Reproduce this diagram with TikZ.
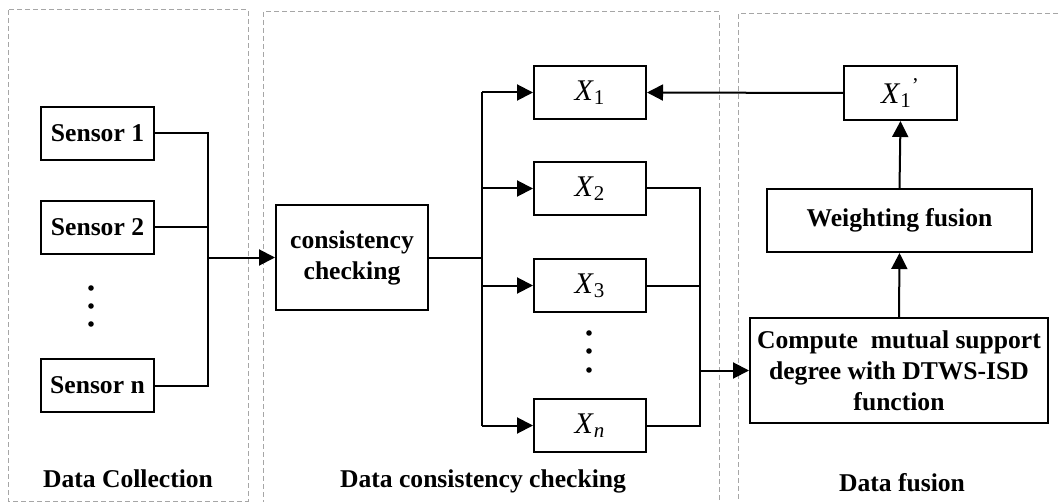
\documentclass[tikz,border=0pt]{standalone}
\usepackage{fontspec}
\setmainfont{Liberation Serif}
\usetikzlibrary{arrows.meta, calc}

\newcommand{\Xs}[1]{\textit{X}\textsubscript{#1}}

\begin{document}
\begin{tikzpicture}[x=0.5pt, y=-0.5pt, font=\fontsize{12.8}{15.5}\selectfont\bfseries,
	line width=1pt,
	box/.style={draw, rectangle, inner sep=0pt, align=center},
	xbox/.style={box, minimum width=56pt, minimum height=26.5pt, font=\fontsize{15}{17}\selectfont},
	sbox/.style={box, minimum width=56.5pt, minimum height=26.5pt},
	panel/.style={draw=gray!70, line width=0.5pt, dash pattern=on 2.5pt off 1.5pt},
	arr/.style={-{Triangle[length=8pt, width=8pt]}},
	dot/.style={fill, circle, inner sep=0pt, minimum size=2.8pt}]
	\def\busA{208}
	\def\busB{482}
	\def\busC{700}

	\useasboundingbox (0,0) rectangle (1059,502);
	\begin{scope}
		\clip (0,0) rectangle (1059,502);
		\draw[panel] (8,10) rectangle (248,501);
		\draw[panel] (263,12) rectangle (719,520);
		\draw[panel] (738,14) rectangle (1080,520);
	\end{scope}

	\node[sbox] (s1) at (97.5,133.5) {Sensor 1};
	\node[sbox] (s2) at (97.5,227.5) {Sensor 2};
	\node[sbox] (sn) at (97.5,385.5) {Sensor n};
	\foreach \y in {288,306,324}
		\node[dot] at (91,\y) {};

	\node[box, minimum width=76pt, minimum height=52.5pt] (chk) at (352,257.5) {consistency\\checking};

	\node[xbox] (x1) at (590,92.5) {\Xs{1}};
	\node[xbox] (x2) at (590,188.5) {\Xs{2}};
	\node[xbox] (x3) at (590,285.5) {\Xs{3}};
	\node[xbox] (xn) at (590,425.5) {\Xs{\textit{n}}};
	\foreach \y in {333,351,370}
		\node[dot] at (589,\y) {};

	\node[xbox, minimum width=56.5pt, minimum height=27pt] (xp) at (900.5,93) {\Xs{1}\textsuperscript{\textnormal{'}}};
	\node[box, minimum width=132.5pt, minimum height=31.5pt] (wf) at (899.5,220.5) {Weighting fusion};
	\node[box, minimum width=149pt, minimum height=52.5pt] (cmp) at (899,370.5) {Compute~ mutual support\\degree with DTWS-ISD\\function};

	\node[anchor=base] (l1) at (128,487) {Data Collection};
	\node[anchor=base] (l2) at (483,487) {Data consistency checking};
	\node[anchor=base] (l3) at (902,491) {Data fusion};

	% sensors to checking
	\coordinate (a1) at (\busA,133.5);
	\coordinate (an) at (\busA,385.5);
	\coordinate (ac) at (\busA,257.5);
	\draw (s1.east) -- (a1) -- (an) -- (sn.east);
	\draw (s2.east) -- (s2.east -| a1);
	\draw[arr] (ac) -- (chk.west);

	% checking to X
	\coordinate (b1) at (\busB,92.5);
	\coordinate (bn) at (\busB,425.5);
	\draw (chk.east) -- (chk.east -| b1);
	\draw (b1) -- (bn);
	\foreach \n in {x1,x2,x3,xn}
		\draw[arr] (\n.west -| b1) -- (\n.west);

	% X to fusion
	\coordinate (c2) at (\busC,188.5);
	\coordinate (cn) at (\busC,425.5);
	\draw (x2.east) -- (c2) -- (cn) -- (xn.east);
	\draw (x3.east) -- (x3.east -| c2);
	\draw[arr] (cmp.west -| c2) -- (cmp.west);
	\draw[arr] (cmp.north) -- (wf.south);
	\draw[arr] (wf.north) -- (xp.south);
	\draw[arr] (xp.west) -- (x1.east);
\end{tikzpicture}
\end{document}
